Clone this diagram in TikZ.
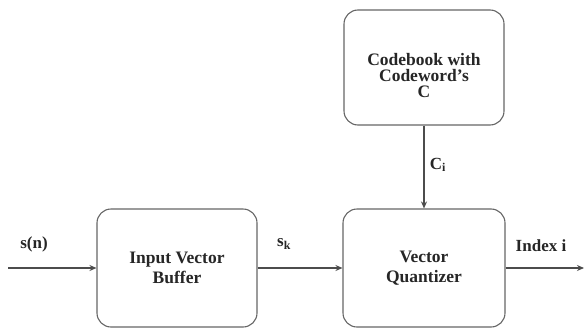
\documentclass[tikz,border=0pt]{standalone}
\usepackage{fontspec}
\setmainfont{Liberation Serif}
\usetikzlibrary{arrows.meta}
\tikzstyle{block}=[draw=black!60, line width=1.1pt, rounded corners=14pt, fill=white, align=center, text=black!85, font=\bfseries\fontsize{17.5}{20}\selectfont]
\tikzstyle{sig}=[text=black!85, font=\bfseries\fontsize{17}{20}\selectfont]
\tikzstyle{flow}=[draw=black!70, line width=1.2pt, -{Stealth[length=7pt,width=6pt]}]

\begin{document}
\begin{tikzpicture}[x=1pt,y=1pt]
				\useasboundingbox (0,0) rectangle (585,330);
				\node[block, minimum width=160pt, minimum height=118pt] (buffer) at (177,62) {Input Vector\\Buffer};
				\node[block, minimum width=162pt, minimum height=118pt] (quantizer) at (424,62) {Vector\\Quantizer};
				\node[block, minimum width=160pt, minimum height=115pt, font=\bfseries\fontsize{17.5}{16}\selectfont] (codebook) at (424,262.5) {\rule{0pt}{28pt}Codebook with\\Codeword's\\C};
				\coordinate (in) at (8,62);
				\coordinate (out) at (584,62);
				\draw[flow] (in) -- (buffer);
				\draw[flow] (buffer) -- (quantizer);
				\draw[flow] (codebook) -- (quantizer);
				\draw[flow] (quantizer) -- (out);
				\node[sig] (sn) at (34,86) {s(n)};
				\node[sig] (sk) at (284,86) {s\textsubscript{k}};
				\node[sig] (ci) at (438,165) {C\textsubscript{i}};
				\node[sig] (index) at (541,84) {Index i};
			\end{tikzpicture}
\end{document}
